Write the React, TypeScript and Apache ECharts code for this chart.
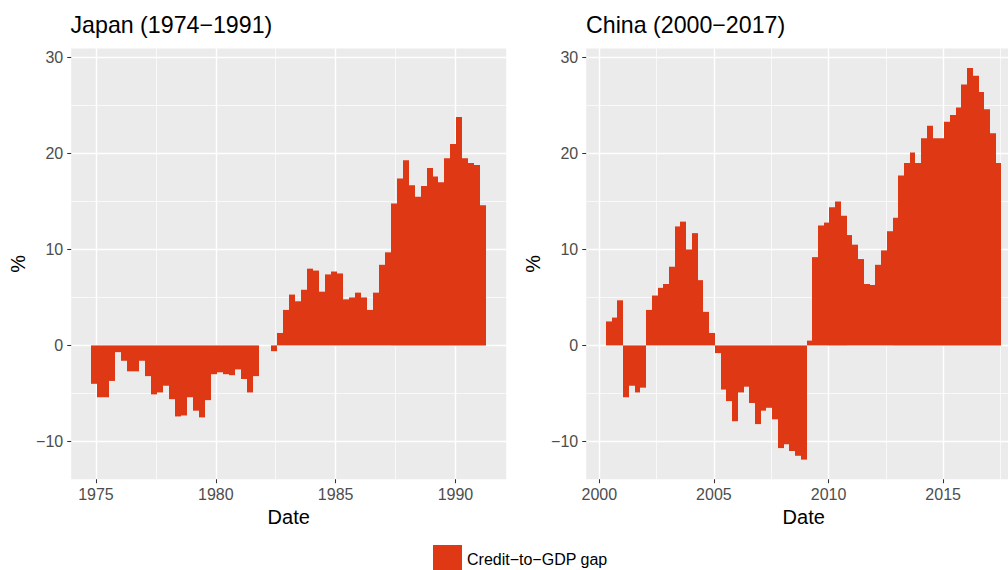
import React, { useEffect, useRef } from "react";
import * as echarts from "echarts";

// ---- Data (credit-to-GDP gap, %, quarterly) ----
const SERIES_NAME = "Credit\u2212to\u2212GDP gap";
const PANEL_TITLES = ["Japan (1974\u22121991)", "China (2000\u22122017)"];

// first observation: [year, month]
const JAPAN_START: [number, number] = [1974, 12];
const JAPAN_GAP = [
  -4.0, -5.4, -5.4, -3.7, -0.7, -1.6, -2.7, -2.7, -1.6, -3.2,
  -5.1, -4.9, -4.2, -5.6, -7.4, -7.3, -5.4, -6.8, -7.5, -5.7,
  -3.0, -2.8, -3.0, -3.1, -2.5, -3.5, -4.9, -3.2, 0.0, 0.0,
  -0.6, 1.3, 3.7, 5.3, 4.6, 5.8, 8.0, 7.8, 5.6, 7.4,
  7.7, 7.5, 4.8, 5.0, 5.5, 5.0, 3.7, 5.5, 8.4, 9.7,
  14.8, 17.4, 19.3, 16.7, 15.5, 16.6, 18.5, 17.6, 17.0, 19.5,
  21.0, 23.8, 19.5, 19.0, 18.8, 14.6,
];

const CHINA_START: [number, number] = [2000, 6];
const CHINA_GAP = [
  2.5, 2.9, 4.7, -5.4, -4.2, -4.9, -4.4, 3.7, 5.2, 6.0,
  6.4, 8.2, 12.4, 12.9, 10.0, 11.7, 6.8, 3.5, 1.3, -0.8,
  -4.6, -5.8, -7.9, -4.9, -4.3, -6.0, -8.2, -6.8, -6.5, -7.7,
  -10.7, -10.3, -11.0, -11.5, -11.9, 0.5, 9.2, 12.5, 12.8, 14.4,
  15.0, 13.5, 11.5, 10.5, 9.0, 6.4, 6.3, 8.4, 9.9, 11.9,
  13.3, 17.7, 19.0, 20.1, 19.0, 21.6, 22.9, 21.6, 21.6, 23.3,
  24.0, 24.8, 27.2, 28.9, 28.1, 26.4, 24.6, 22.1, 19.0,
];

// ---- Axis breaks ----
const Y_BREAKS = [-10, 0, 10, 20, 30];
const Y_MINOR = [-5, 5, 15, 25];
const JAPAN_X_BREAKS = [1975, 1980, 1985, 1990];
const JAPAN_X_MINOR = [1977.5, 1982.5, 1987.5];
const CHINA_X_BREAKS = [2000, 2005, 2010, 2015];
const CHINA_X_MINOR = [2002.5, 2007.5, 2012.5, 2017.5];

// ---- Styling ----
const FONT = '"Liberation Sans", Arial, Helvetica, sans-serif';
const BAR_COLOR = "#DE3914";
const PANEL_BG = "#EBEBEB";
const QUARTER = 0.25; // bar width in years

function toPoints(start: [number, number], values: number[]): number[][] {
  return values.map((v, i) => {
    const monthIndex = start[1] - 1 + 3 * i;
    return [start[0] + monthIndex / 12, v];
  });
}

function expandRange(lo: number, hi: number): [number, number] {
  const pad = (hi - lo) * 0.05;
  return [lo - pad, hi + pad];
}

const minus = (v: number) => (v < 0 ? "\u2212" + Math.abs(v) : String(v));

export default function App() {
  const ref = useRef<HTMLDivElement>(null);

  useEffect(() => {
    if (!ref.current) return;
    const chart = echarts.init(ref.current, undefined, { renderer: "svg" });

    const japan = toPoints(JAPAN_START, JAPAN_GAP);
    const china = toPoints(CHINA_START, CHINA_GAP);

    const xRange = (pts: number[][]) =>
      expandRange(pts[0][0] - QUARTER / 2, pts[pts.length - 1][0] + QUARTER / 2);
    const [jMin, jMax] = xRange(japan);
    const [cMin, cMax] = xRange(china);
    const allY = [...JAPAN_GAP, ...CHINA_GAP, 0];
    const [yMin, yMax] = expandRange(Math.min(...allY), Math.max(...allY));

    const tickStyle = { color: "#333333", width: 1.07 };
    const majorLine = { color: "#FFFFFF", width: 1.4 };
    const minorLine = { color: "#FFFFFF", width: 0.7 };
    const noLine = { show: false, onZero: false };

    const xMajor = (grid: number, min: number, max: number, breaks: number[]) => ({
      type: "value",
      gridIndex: grid,
      position: "bottom",
      min,
      max,
      name: "Date",
      nameLocation: "middle",
      nameGap: 28,
      nameTextStyle: { fontSize: 20, color: "#000000", fontFamily: FONT },
      axisLine: noLine,
      axisTick: { show: true, length: 4, lineStyle: tickStyle, customValues: breaks },
      axisLabel: {
        customValues: breaks,
        fontSize: 16,
        color: "#4D4D4D",
        fontFamily: FONT,
        margin: 7,
        formatter: (v: number) => String(v),
      },
      splitLine: { show: true, lineStyle: majorLine },
    });
    const xMinorAxis = (grid: number, min: number, max: number, minor: number[]) => ({
      type: "value",
      gridIndex: grid,
      position: "top",
      min,
      max,
      axisLine: noLine,
      axisTick: { show: false, customValues: minor },
      axisLabel: { show: false, customValues: minor },
      splitLine: { show: true, lineStyle: minorLine },
    });
    const yMajor = (grid: number) => ({
      type: "value",
      gridIndex: grid,
      position: "left",
      min: yMin,
      max: yMax,
      name: "%",
      nameLocation: "middle",
      nameGap: 43,
      nameTextStyle: { fontSize: 20, color: "#000000", fontFamily: FONT },
      axisLine: noLine,
      axisTick: { show: true, length: 4, lineStyle: tickStyle, customValues: Y_BREAKS },
      axisLabel: {
        customValues: Y_BREAKS,
        fontSize: 16,
        color: "#4D4D4D",
        fontFamily: FONT,
        margin: 8,
        formatter: minus,
      },
      splitLine: { show: true, lineStyle: majorLine },
    });
    const yMinorAxis = (grid: number) => ({
      type: "value",
      gridIndex: grid,
      position: "right",
      min: yMin,
      max: yMax,
      axisLine: noLine,
      axisTick: { show: false, customValues: Y_MINOR },
      axisLabel: { show: false, customValues: Y_MINOR },
      splitLine: { show: true, lineStyle: minorLine },
    });

    const renderBar = (params: any, api: any) => {
      const x = api.value(0);
      const y = api.value(1);
      if (y === 0) return { type: "group", children: [] };
      const p0 = api.coord([x - QUARTER / 2, y]);
      const p1 = api.coord([x + QUARTER / 2, 0]);
      // snap bar edges to whole pixels so neighbouring bars join without seams
      const left = Math.round(p0[0]);
      const right = Math.round(p1[0]);
      return {
        type: "rect",
        shape: {
          x: left,
          y: Math.min(p0[1], p1[1]),
          width: right - left,
          height: Math.abs(p1[1] - p0[1]),
        },
        style: { fill: BAR_COLOR },
      };
    };

    const gridBase = {
      top: 48.5,
      height: 430.7,
      width: 435,
      show: true,
      backgroundColor: PANEL_BG,
      borderWidth: 0,
      containLabel: false,
      outerBoundsMode: "none",
    };

    const titleStyle = { fontSize: 23.2, fontWeight: "normal", color: "#000000", fontFamily: FONT };

    chart.setOption({
      animation: false,
      textStyle: { fontFamily: FONT },
      title: [
        { text: PANEL_TITLES[0], left: 70.5, top: 13.5, padding: 0, textStyle: titleStyle },
        { text: PANEL_TITLES[1], left: 586, top: 13.5, padding: 0, textStyle: titleStyle },
      ],
      legend: {
        data: [{ name: SERIES_NAME, icon: "rect" }],
        left: 433,
        top: 545,
        padding: 0,
        itemWidth: 29,
        itemHeight: 29,
        selectedMode: false,
        textStyle: { fontSize: 16, color: "#000000", fontFamily: FONT },
      },
      grid: [
        { ...gridBase, left: 71.2 },
        { ...gridBase, left: 586.2 },
      ],
      xAxis: [
        xMajor(0, jMin, jMax, JAPAN_X_BREAKS),
        xMajor(1, cMin, cMax, CHINA_X_BREAKS),
        xMinorAxis(0, jMin, jMax, JAPAN_X_MINOR),
        xMinorAxis(1, cMin, cMax, CHINA_X_MINOR),
      ],
      yAxis: [yMajor(0), yMajor(1), yMinorAxis(0), yMinorAxis(1)],
      series: [
        {
          name: SERIES_NAME,
          type: "custom",
          xAxisIndex: 0,
          yAxisIndex: 0,
          itemStyle: { color: BAR_COLOR },
          renderItem: renderBar,
          data: japan,
          silent: true,
        },
        {
          name: SERIES_NAME,
          type: "custom",
          xAxisIndex: 1,
          yAxisIndex: 1,
          itemStyle: { color: BAR_COLOR },
          renderItem: renderBar,
          data: china,
          silent: true,
        },
      ],
    });

    return () => chart.dispose();
  }, []);

  return (
    <div
      ref={ref}
      style={{ position: "absolute", left: 0, top: 0, width: 1008, height: 570, overflow: "hidden" }}
    />
  );
}
